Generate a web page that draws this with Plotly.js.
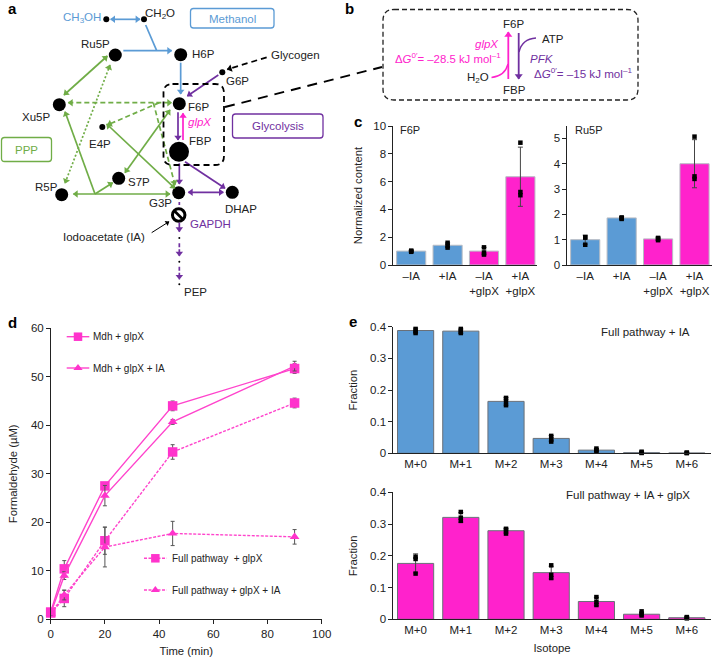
<!DOCTYPE html>
<html><head><meta charset="utf-8">
<script src="https://cdn.plot.ly/plotly-3.0.1.min.js"></script>
<style>html,body{margin:0;padding:0;background:#fff}</style></head>
<body><div id="chart" style="width:713px;height:657px"></div>
<script>
// ---------- DATA ----------
const contentCategories = ['–IA', '+IA', '–IA<br>+glpX', '+IA<br>+glpX'];
const f6pMeans = [1.0, 1.42, 1.0, 6.35];
const f6pErrors = [0.05, 0.18, 0.27, 2.13];
const f6pPoints = [[0.95, 1.0, 1.03], [1.25, 1.4, 1.6], [0.75, 0.9, 1.27], [5.02, 5.25, 8.8]];
const ru5pMeans = [1.0, 1.86, 1.03, 4.0];
const ru5pErrors = [0.18, 0.05, 0.07, 0.95];
const ru5pPoints = [[0.8, 1.08, 1.1], [1.82, 1.85, 1.88], [0.98, 1.03, 1.07], [3.4, 3.5, 5.07]];

const timeMin = [0, 5, 20, 45, 90];
const mdhGlpx = [1.5, 10.4, 27.5, 44, 51.7];
const mdhGlpxErr = [0.4, 1.7, 0.6, 1.0, 1.0];
const mdhGlpxIA = [1.2, 9, 25.5, 40.7, 52.2];
const mdhGlpxIAErr = [0.4, 0.8, 2.1, 0.5, 1.0];
const fullGlpx = [1.3, 4.3, 16.2, 34.5, 44.6];
const fullGlpxErr = [0.4, 1.7, 2.8, 1.5, 1.0];
const fullGlpxIA = [1.2, 5, 14.9, 17.7, 17];
const fullGlpxIAErr = [0.4, 1.0, 4.1, 2.5, 1.5];

const isotopes = ['M+0', 'M+1', 'M+2', 'M+3', 'M+4', 'M+5', 'M+6'];
const iaFractions = [0.388, 0.386, 0.164, 0.047, 0.01, 0.002, 0.001];
const iaErrors = [0.007, 0.007, 0.012, 0.009, 0.005, 0.002, 0.001];
const iaPoints = [[0.38, 0.385, 0.393], [0.38, 0.385, 0.393], [0.152, 0.165, 0.175], [0.037, 0.045, 0.055], [0.005, 0.01, 0.015], [0.001, 0.002, 0.005], [0.001, 0.001, 0.002]];
const iaGlpxFractions = [0.176, 0.321, 0.279, 0.147, 0.056, 0.016, 0.005];
const iaGlpxErrors = [0.03, 0.015, 0.008, 0.02, 0.013, 0.006, 0.002];
const iaGlpxPoints = [[0.144, 0.19, 0.197], [0.31, 0.32, 0.338], [0.27, 0.28, 0.285], [0.13, 0.14, 0.17], [0.045, 0.055, 0.07], [0.012, 0.018, 0.025], [0.003, 0.005, 0.007]];

const nodeNames = ['CH3OH', 'CH2O', 'Ru5P', 'H6P', 'G6P', 'F6P', 'FBP', 'G3P', 'DHAP', 'Xu5P', 'E4P', 'S7P', 'R5P'];

// ---------- STYLE ----------
const FONT = 'Liberation Sans, Arial, sans-serif';
const BLUE = '#5b9bd5', MAG = '#ff22cc', GREEN = '#70ad47', PUR = '#7030a0', INK = '#222222', LINEM = '#ff44cc';
const W = 713, H = 657;
const dx = (a, b) => [a / W, b / W];
const dy = (top, bot) => [1 - bot / H, 1 - top / H];

const traces = [], shapes = [], annots = [];
const OV = {xaxis: 'x6', yaxis: 'y6'};

// ---------- bar panels ----------
function barPanel(cats, vals, errs, pts, color, axX, axY, lineCol) {
  traces.push({type: 'bar', x: cats, y: vals, xaxis: axX, yaxis: axY, width: 0.8,
    marker: {color: color, line: {color: lineCol, width: 1}}, showlegend: false, cliponaxis: false,
    error_y: {type: 'data', array: errs, visible: true, color: '#444', thickness: 1, width: 2.5}});
  const xs = [], ys = [];
  pts.forEach((p, i) => p.forEach(v => { xs.push(cats[i]); ys.push(v); }));
  traces.push({type: 'scatter', mode: 'markers', x: xs, y: ys, xaxis: axX, yaxis: axY, cliponaxis: false,
    marker: {symbol: 'square', size: 4.5, color: '#000', opacity: 1}, showlegend: false});
}
const fillsC = [BLUE, BLUE, MAG, MAG];
barPanel(contentCategories, f6pMeans, f6pErrors, f6pPoints, fillsC, 'x', 'y', '#b8bcc4');
barPanel(contentCategories, ru5pMeans, ru5pErrors, ru5pPoints, fillsC, 'x2', 'y2', '#b8bcc4');
barPanel(isotopes, iaFractions, iaErrors, iaPoints, BLUE, 'x4', 'y4', '#6a7078');
barPanel(isotopes, iaGlpxFractions, iaGlpxErrors, iaGlpxPoints, MAG, 'x5', 'y5', '#6a7078');

// ---------- time course ----------
function series(y, e, sym, dash) {
  traces.push({type: 'scatter', mode: 'lines+markers', x: timeMin, y: y, xaxis: 'x3', yaxis: 'y3', cliponaxis: false,
    line: {color: LINEM, width: 1.4, dash: dash},
    marker: {symbol: sym, size: sym === 'square' ? 9.5 : 8.5, color: '#ff33cc'},
    error_y: {type: 'data', array: e, visible: true, color: '#555', thickness: 1, width: 2}, showlegend: false});
}
series(mdhGlpx, mdhGlpxErr, 'square', 'solid');
series(mdhGlpxIA, mdhGlpxIAErr, 'triangle-up', 'solid');
series(fullGlpx, fullGlpxErr, 'square', '3px,1.5px');
series(fullGlpxIA, fullGlpxIAErr, 'triangle-up', '3px,1.5px');

// ---------- helpers for the pathway drawing (overlay axis in page pixels) ----------
function text(x, y, s, size, color, anchor) {
  annots.push({xref: 'x6', yref: 'y6', x, y, text: s, showarrow: false, xanchor: anchor || 'center', yanchor: 'middle',
    font: {family: FONT, size: size || 11.5, color: color || INK}, borderpad: 0, borderwidth: 0});
}
function head(x0, y0, x1, y1, color, size) {
  const len = Math.hypot(x1 - x0, y1 - y0), ux = (x1 - x0) / len, uy = (y1 - y0) / len;
  const b = size * 0.42;
  traces.push(Object.assign({type: 'scatter', mode: 'markers', x: [x1 - ux * b], y: [y1 - uy * b], showlegend: false, cliponaxis: false,
    marker: {symbol: 'triangle-up', size: size, color: color, angle: Math.atan2(ux, -uy) * 180 / Math.PI, line: {width: 0}}}, OV));
}
function seg(x0, y0, x1, y1, color, opt) {
  opt = opt || {};
  shapes.push({type: 'line', xref: 'x6', yref: 'y6', x0, y0, x1, y1, line: {color, width: opt.w || 1.7, dash: opt.dash || 'solid'}});
  const s = opt.size || 6.5;
  if (opt.end !== false) head(x0, y0, x1, y1, color, s);
  if (opt.both) head(x1, y1, x0, y0, color, s);
}
function edge(z, color, opt) { seg(z[0] / 3, z[1] / 3, z[2] / 3, z[3] / 3, color, opt); }
function box(x0, y0, x1, y1, r, color, w, dash) {
  const p = `M${x0 + r},${y0} L${x1 - r},${y0} Q${x1},${y0} ${x1},${y0 + r} L${x1},${y1 - r} Q${x1},${y1} ${x1 - r},${y1} L${x0 + r},${y1} Q${x0},${y1} ${x0},${y1 - r} L${x0},${y0 + r} Q${x0},${y0} ${x0 + r},${y0} Z`;
  shapes.push({type: 'path', xref: 'x6', yref: 'y6', path: p, line: {color, width: w, dash: dash || 'solid'}});
}

// ---------- panel a ----------
edge([332, 58, 420, 58], BLUE, {both: true});
edge([437, 75, 470, 152], BLUE, {end: false});
edge([370, 152, 515, 152], BLUE);
edge([542, 188, 542, 282], BLUE);
edge([655, 225, 562, 288], PUR);
edge([534, 337, 534, 420], PUR);
edge([549, 420, 549, 340], MAG);
edge([538, 490, 538, 552], PUR);
edge([555, 485, 675, 565], PUR);
edge([565, 577, 670, 577], PUR, {both: true});
edge([538, 606, 538, 622], PUR, {end: false, dash: '3px,2px'});
edge([538, 668, 538, 695], PUR);
edge([538, 730, 538, 768], PUR, {dash: '4px,2px'});
edge([538, 800, 538, 838], PUR, {dash: '4px,2px'});
edge([800, 172, 682, 208], '#000', {dash: '6px,4px'});
edge([455, 698, 507, 665], '#000', {w: 1, size: 5});
edge([322, 168, 192, 285], GREEN, {both: true});
edge([330, 195, 195, 550], GREEN, {both: true, dash: '2px,2px'});
edge([205, 308, 515, 308], GREEN, {both: true, dash: '5px,3px'});
edge([478, 308, 322, 375], GREEN, {dash: '5px,3px'});
edge([460, 308, 525, 555], GREEN, {dash: '5px,3px'});
edge([320, 372, 525, 565], GREEN, {both: true});
edge([510, 330, 375, 518], GREEN, {both: true});
edge([220, 582, 510, 582], GREEN, {both: true});
edge([285, 582, 195, 335], GREEN);
edge([285, 582, 338, 548], GREEN);

const nodeX = [106.3, 144, 115.3, 180.7, 222.3, 179.3, 179, 178.7, 232.3, 59.3, 102.3, 118.7, 61.7];
const nodeY = [19.3, 19.3, 55, 54.7, 72.3, 103.7, 151.7, 192.7, 192.3, 104.7, 127, 178.3, 194.7];
const nodeD = [6, 6, 13, 13, 6, 13, 20, 13, 13, 13, 6, 13, 13];
traces.push(Object.assign({type: 'scatter', mode: 'markers', x: nodeX, y: nodeY, text: nodeNames, showlegend: false, hoverinfo: 'text',
  marker: {size: nodeD, color: '#000', opacity: 1, line: {width: 0}}}, OV));
traces.push(Object.assign({type: 'scatter', mode: 'markers', x: [179.3, 179.3, 179.3], y: [238, 261.7, 284.3], showlegend: false,
  marker: {size: 2, color: '#000', opacity: 1}}, OV));
traces.push(Object.assign({type: 'scatter', mode: 'markers', x: [178.7], y: [215], showlegend: false,
  marker: {size: 12.5, color: '#fff', opacity: 1, line: {color: '#000', width: 3}}}, OV));
shapes.push({type: 'line', xref: 'x6', yref: 'y6', x0: 174, y0: 210.5, x1: 183, y1: 219.5, line: {color: '#000', width: 2.6}});

box(163.5, 84, 224, 165, 9, '#000', 1.8, '6px,4px');
shapes.push({type: 'line', xref: 'x6', yref: 'y6', x0: 225, y0: 107, x1: 382, y1: 67, line: {color: '#000', width: 1.9, dash: '10px,7px'}});
box(190.5, 8.5, 274, 28, 3, BLUE, 1.3);
box(232.5, 114, 323, 138, 3, PUR, 1.3);
box(1.5, 137.5, 51.5, 161.5, 3, GREEN, 1.3);

text(12, 8, '<b>a</b>', 15, '#000'); text(349, 8, '<b>b</b>', 15, '#000'); text(358, 121, '<b>c</b>', 15, '#000');
text(12, 322, '<b>d</b>', 15, '#000'); text(353, 321, '<b>e</b>', 15, '#000');
text(82, 18, 'CH<sub>3</sub>OH', 11.5, BLUE); text(160, 13.5, 'CH<sub>2</sub>O', 11.5);
text(232, 18.5, 'Methanol', 11.5, BLUE); text(277.5, 126, 'Glycolysis', 11.5, PUR); text(26.5, 149.5, 'PPP', 11.5, GREEN);
text(95, 44, 'Ru5P'); text(203, 54, 'H6P'); text(295, 55, 'Glycogen'); text(237, 81, 'G6P');
text(198, 107, 'F6P'); text(200, 141, 'FBP'); text(200, 122, '<i>glpX</i>', 11.5, MAG);
text(36, 116.5, 'Xu5P'); text(99.5, 144, 'E4P'); text(139, 182, 'S7P'); text(46.5, 187, 'R5P');
text(160.5, 203, 'G3P'); text(241, 208.5, 'DHAP'); text(210, 223.5, 'GAPDH', 11.5, PUR);
text(103.5, 236.5, 'Iodoacetate (IA)'); text(195, 292, 'PEP');

// ---------- panel b ----------
box(383, 9.5, 638, 100, 11, '#222', 1.3, '5px,3px');
text(513.7, 24, 'F6P'); text(514, 90, 'FBP'); text(553, 38.5, 'ATP'); text(477.5, 78, 'H<sub>2</sub>O');
seg(508.3, 79, 508.3, 32, MAG, {w: 1.8, size: 7});
seg(518.7, 33, 518.7, 79, PUR, {w: 1.8, size: 7});
shapes.push({type: 'path', xref: 'x6', yref: 'y6', path: 'M519,52 Q522,39 536,38', line: {color: PUR, width: 1.4}});
shapes.push({type: 'path', xref: 'x6', yref: 'y6', path: 'M491.5,77.5 Q505,76 508,64', line: {color: MAG, width: 1.4}});
text(486.5, 44, '<i>glpX</i>', 11.5, MAG);
text(448, 57.5, 'Δ<i>G</i><sup>0′</sup>= –28.5 kJ mol<sup>–1</sup>', 11.4, MAG);
text(541.5, 58.5, '<i>PFK</i>', 11.5, PUR);
text(583, 73, 'Δ<i>G</i><sup>0′</sup>= –15 kJ mol<sup>–1</sup>', 11.6, PUR);

// ---------- panel labels ----------
text(400, 130, 'F6P', 11, INK, 'left'); text(574.7, 130, 'Ru5P', 11, INK, 'left');
text(690, 332, 'Full pathway + IA', 11.5, INK, 'right'); text(690, 494.5, 'Full pathway + IA + glpX', 11.5, INK, 'right');

// ---------- legend for panel d ----------
function legendItem(y, x0, x1, sym, dash, label, tx) {
  traces.push(Object.assign({type: 'scatter', mode: 'lines', x: [x0, x1], y: [y, y], showlegend: false,
    line: {color: LINEM, width: 1.4, dash}}, OV));
  traces.push(Object.assign({type: 'scatter', mode: 'markers', x: [(x0 + x1) / 2], y: [y], showlegend: false,
    marker: {symbol: sym, size: sym === 'square' ? 8.5 : 8, color: '#ff33cc', opacity: 1}}, OV));
  text(tx, y, label, 10, INK, 'left');
}
legendItem(336.7, 66.7, 89.3, 'square', 'solid', 'Mdh + glpX', 93.3);
legendItem(368, 66.7, 89.3, 'triangle-up', 'solid', 'Mdh + glpX + IA', 93.3);
legendItem(558.3, 144, 166.7, 'square', '3px,1.5px', 'Full pathway  + glpX', 171.7);
legendItem(590, 144, 166.7, 'triangle-up', '3px,1.5px', 'Full pathway + glpX + IA', 171.7);

// ---------- layout ----------
const titleFont = {family: FONT, size: 11.3, color: INK};
const axBase = {showgrid: false, zeroline: false, showline: true, linecolor: INK, linewidth: 1.3, tickcolor: INK, tickwidth: 1,
  tickfont: {family: FONT, size: 11.5, color: INK}, ticks: 'outside', ticklen: 3.5};
const catAx = (dom, anchor, rng) => Object.assign({}, axBase, {domain: dom, anchor, type: 'category', range: rng, ticks: '', automargin: false});
const valAx = (dom, anchor, rng, vals, labels, title, standoff) => Object.assign({}, axBase, {domain: dom, anchor, range: rng, tickmode: 'array', tickvals: vals, ticktext: labels, automargin: false,
  title: title ? {text: title, font: titleFont, standoff} : undefined});

const layout = {
  width: W, height: H, margin: {l: 0, r: 0, t: 0, b: 0}, paper_bgcolor: '#fff', plot_bgcolor: 'rgba(0,0,0,0)',
  showlegend: false, shapes, annotations: annots,
  xaxis: catAx(dx(393, 537), 'y', [-0.5, 3.456]),
  yaxis: valAx(dy(126, 265), 'x', [0, 10], [0, 2, 4, 6, 8, 10], ['0', '2', '4', '6', '8', '10'], 'Normalized content', 8),
  xaxis2: catAx(dx(567, 712), 'y2', [-0.5, 3.48]),
  yaxis2: valAx(dy(126, 265), 'x2', [0, 5.49], [0, 1, 2, 3, 4, 5], ['0', '1', '2', '3', '4', '5']),
  xaxis3: Object.assign({}, axBase, {domain: dx(50.7, 321.7), anchor: 'y3', range: [0, 100], tickmode: 'array', tickvals: [0, 20, 40, 60, 80, 100], ticktext: ['0', '20', '40', '60', '80', '100'],
    title: {text: 'Time (min)', font: titleFont, standoff: 8}, automargin: false}),
  yaxis3: valAx(dy(328.3, 619.3), 'x3', [0, 60], [0, 10, 20, 30, 40, 50, 60], ['0', '10', '20', '30', '40', '50', '60'], 'Formaldehyde (µM)', 10),
  xaxis4: catAx(dx(393, 711), 'y4', [-0.5, 6.535]),
  yaxis4: valAx(dy(326.7, 453.3), 'x4', [0, 0.4], [0, 0.1, 0.2, 0.3, 0.4], ['0', '0.1', '0.2', '0.3', '0.4'], 'Fraction', 10),
  xaxis5: Object.assign(catAx(dx(393, 711), 'y5', [-0.5, 6.535]), {title: {text: 'Isotope', font: titleFont, standoff: 8}}),
  yaxis5: valAx(dy(492.3, 619.3), 'x5', [0, 0.4], [0, 0.1, 0.2, 0.3, 0.4], ['0', '0.1', '0.2', '0.3', '0.4'], 'Fraction', 10),
  xaxis6: {domain: [0, 1], anchor: 'y6', range: [0, W], visible: false, fixedrange: true},
  yaxis6: {domain: [0, 1], anchor: 'x6', range: [H, 0], visible: false, fixedrange: true},
  font: {family: FONT, color: INK}
};
Plotly.newPlot('chart', traces, layout, {displayModeBar: false, responsive: false});
</script></body></html>
